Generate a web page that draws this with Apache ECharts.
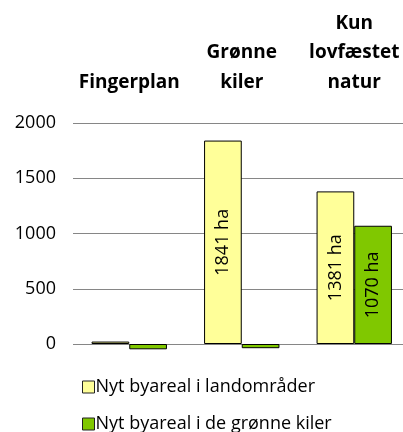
<!DOCTYPE html>
<html><head><meta charset="utf-8">
<script src="https://cdn.jsdelivr.net/npm/echarts@6/dist/echarts.min.js"></script>
<style>html,body{margin:0;padding:0;background:#fff;overflow:hidden;width:403px;height:432px}#c{width:411px;height:432px}</style>
</head><body><div id="c"></div>
<script>
var categories = ['Fingerplan', 'Grønne\nkiler', 'Kun\nlovfæstet\nnatur'];
var landValues = [22, 1841, 1381];
var kilerValues = [-48, -38, 1070];
var landLabels = ['', '1841 ha', '1381 ha'];
var kilerLabels = ['', '', '1070 ha'];
var seriesNames = ['Nyt byareal i landområder', 'Nyt byareal i de grønne kiler'];
var yTicks = [0, 500, 1000, 1500, 2000];
var FONT = 'Open Sans';

var chart = echarts.init(document.getElementById('c'), null, {renderer: 'canvas'});
function lbl(arr){
  return {show: true, position: 'inside', rotate: 90, color: '#000', fontFamily: FONT, fontSize: 18,
    formatter: function(p){ return arr[p.dataIndex]; }};
}
function leg(i, top){
  return {orient: 'vertical', left: 77, top: top, itemWidth: 12, itemHeight: 12, itemGap: 0,
    icon: 'rect', textStyle: {fontSize: 18, color: '#000', fontFamily: FONT, padding: [0,0,0,-4]},
    itemStyle: {borderColor: '#222', borderWidth: 1},
    data: [seriesNames[i]]};
}
chart.setOption({
  animation: false,
  textStyle: {fontFamily: FONT},
  grid: {left: 73, top: 123, width: 337.5, bottom: 88, containLabel: false},
  xAxis: {
    type: 'category', data: categories, position: 'top',
    axisLine: {show: false}, axisTick: {show: false},
    axisLabel: {interval: 0, margin: 26, fontWeight: 'bold', fontSize: 19, color: '#000', lineHeight: 29.5, fontFamily: FONT}
  },
  yAxis: {
    type: 'value', min: yTicks[0], max: yTicks[yTicks.length-1], interval: 500,
    axisLine: {show: false}, axisTick: {show: false},
    axisLabel: {margin: 17, fontSize: 18, color: '#000', fontFamily: FONT, formatter: function(v){ return String(v); }},
    splitLine: {lineStyle: {color: '#868686', width: 1}}
  },
  legend: [leg(0, 373), leg(1, 410)],
  series: [
    {name: seriesNames[0], type: 'bar', data: landValues, barGap: '0%', barCategoryGap: '33%', clip: false,
     itemStyle: {color: '#FFFF99', borderColor: '#000', borderWidth: 1}, label: lbl(landLabels)},
    {name: seriesNames[1], type: 'bar', data: kilerValues, clip: false,
     itemStyle: {color: '#80C800', borderColor: '#000', borderWidth: 1}, label: lbl(kilerLabels)}
  ]
});
</script></body></html>
